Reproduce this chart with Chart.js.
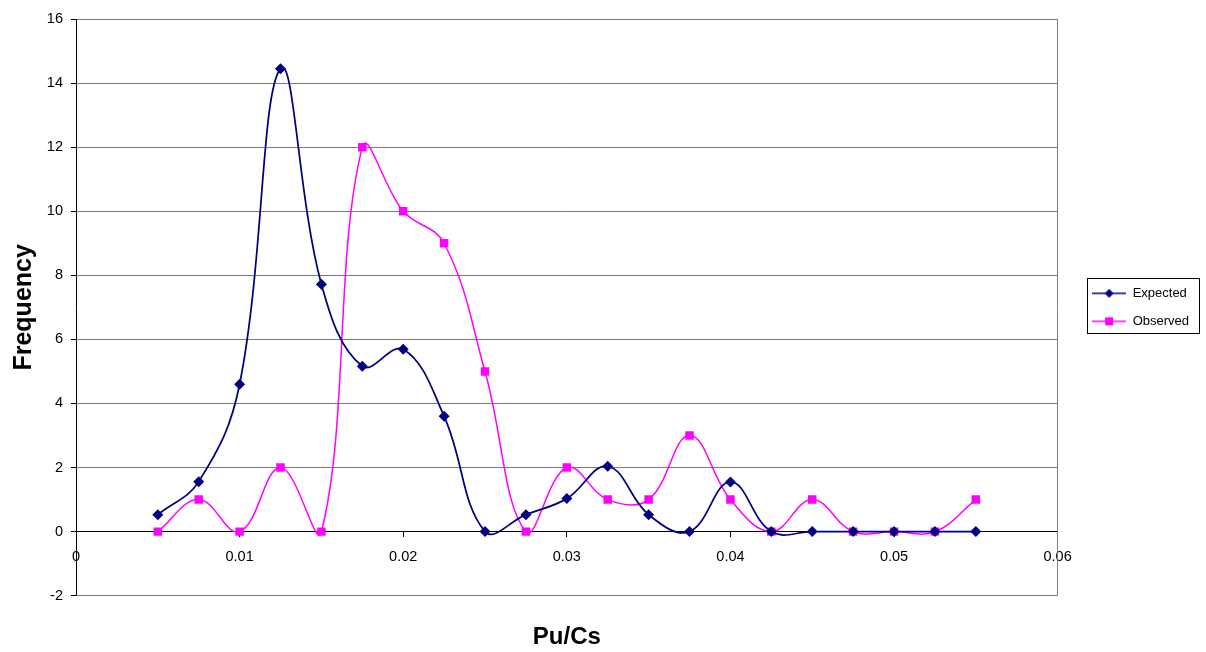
<!DOCTYPE html>
<html>
<head>
<meta charset="utf-8">
<script src="https://cdn.jsdelivr.net/npm/chart.js@4.4.0/dist/chart.umd.min.js"></script>
<style>
html,body{margin:0;padding:0;background:#ffffff;}
#wrap{width:1206px;height:652px;position:relative;}
</style>
</head>
<body>
<div id="wrap"><canvas id="c" width="1206" height="652"></canvas></div>
<script>
// ---- data ----
const xValues  = [0.005,0.0075,0.01,0.0125,0.015,0.0175,0.02,0.0225,0.025,0.0275,0.03,0.0325,0.035,0.0375,0.04,0.0425,0.045,0.0475,0.05,0.0525,0.055];
const expected = [0.53,1.56,4.6,14.45,7.72,5.16,5.69,3.6,0,0.53,1.03,2.04,0.53,0,1.55,0,0,0,0,0,0];
const observed = [0,1,0,2,0,12,10,9,5,0,2,1,1,3,1,0,1,0,0,0,1];
const seriesNames = ['Expected','Observed'];
const xTitle = 'Pu/Cs';
const yTitle = 'Frequency';
const xTickMin = 0, xTickMax = 0.06, xTickStep = 0.01;
const yTickMin = -2, yTickMax = 16, yTickStep = 2;

const FONT = "'Liberation Sans', Arial, sans-serif";
const colExpected = '#000080';
const colObserved = '#FF00FF';

function legendSymbol(color, kind, lw) {
  const c = document.createElement('canvas');
  c.width = 34; c.height = 12;
  const g = c.getContext('2d');
  g.strokeStyle = color; g.lineWidth = lw;
  g.beginPath(); g.moveTo(0, 6); g.lineTo(34, 6); g.stroke();
  g.fillStyle = color;
  if (kind === 'diamond') {
    g.beginPath(); g.moveTo(17, 1.5); g.lineTo(21.5, 6); g.lineTo(17, 10.5); g.lineTo(12.5, 6); g.closePath(); g.fill();
  } else {
    g.fillRect(13, 2, 8, 8);
  }
  return c;
}
const legendSymbols = [legendSymbol(colExpected, 'diamond', 1.5), legendSymbol(colObserved, 'square', 1.5)];

const legendBorder = {
  id: 'legendBorder',
  afterDraw(chart) {
    const lg = chart.legend;
    if (!lg || !lg.legendHitBoxes || !lg.legendHitBoxes.length) return;
    const hb = lg.legendHitBoxes;
    let l = Infinity, t = Infinity, r = -Infinity, b = -Infinity;
    hb.forEach(h => { l = Math.min(l, h.left); t = Math.min(t, h.top); r = Math.max(r, h.left + h.width); b = Math.max(b, h.top + h.height); });
    const ctx = chart.ctx;
    ctx.save();
    ctx.strokeStyle = '#000'; ctx.lineWidth = 1;
    ctx.strokeRect(Math.round(l - 5) + 0.5, Math.round(t - 9) + 0.5, Math.round(r - l + 15), Math.round(b - t + 14));
    ctx.restore();
  }
};

const ctx = document.getElementById('c').getContext('2d');
new Chart(ctx, {
  type: 'line',
  data: {
    datasets: [
      {
        label: seriesNames[0],
        data: xValues.map((x, i) => ({x: x, y: expected[i]})),
        borderColor: colExpected, backgroundColor: colExpected,
        borderWidth: 1.75, pointStyle: 'rectRot', pointRadius: 5.5, pointHoverRadius: 5.5,
        pointBorderWidth: 0, tension: 0.4, fill: false
      },
      {
        label: seriesNames[1],
        data: xValues.map((x, i) => ({x: x, y: observed[i]})),
        borderColor: colObserved, backgroundColor: colObserved,
        borderWidth: 1.5, pointStyle: 'rect', pointRadius: 6, pointHoverRadius: 6,
        pointBorderWidth: 0, tension: 0.4, fill: false
      }
    ]
  },
  options: {
    responsive: false, animation: false, devicePixelRatio: 1,
    layout: { padding: { top: 19, right: 7, bottom: 0, left: 0 } },
    scales: {
      x: {
        type: 'linear', min: xTickMin, max: xTickMax, position: { y: 0 },
        ticks: {
          stepSize: xTickStep, autoSkip: false, maxRotation: 0, padding: 12, color: '#000',
          font: { family: FONT, size: 14.5 },
          callback: v => String(Math.round(v * 100) / 100)
        },
        grid: { drawOnChartArea: false, drawTicks: true, tickLength: 5, color: '#000' },
        border: { color: '#000', width: 1 }
      },
      y: {
        min: yTickMin, max: yTickMax,
        ticks: { stepSize: yTickStep, padding: 8, color: '#000', font: { family: FONT, size: 14.5 } },
        grid: { color: '#7a7a7a', tickColor: '#000', tickLength: 5, lineWidth: 1 },
        border: { color: '#000', width: 1 },
        title: { display: true, text: yTitle, color: '#000', font: { family: FONT, size: 25, weight: 'bold' }, padding: { top: 9, bottom: 0 } },
        afterFit: s => { s.width = 76; }
      },
      y2: {
        position: 'right', min: 0, max: 1,
        ticks: { display: false },
        grid: { drawOnChartArea: false, drawTicks: false },
        border: { display: true, color: '#808080', width: 1 },
        afterFit: s => { s.width = 19.5; }
      }
    },
    plugins: {
      legend: {
        position: 'right', align: 'center', fullSize: false,
        labels: {
          usePointStyle: true, pointStyleWidth: 34, padding: 15, color: '#000',
          font: { family: FONT, size: 13 },
          generateLabels: chart => Chart.defaults.plugins.legend.labels.generateLabels(chart)
            .map((l, i) => Object.assign({}, l, { pointStyle: legendSymbols[i] }))
        }
      },
      title: {
        display: true, text: xTitle, position: 'bottom', fullSize: false, color: '#000',
        font: { family: FONT, size: 24, weight: 'bold' }, padding: { top: 27, bottom: 0.5 }
      },
      tooltip: { enabled: false }
    }
  },
  plugins: [legendBorder]
});
</script>
</body>
</html>
